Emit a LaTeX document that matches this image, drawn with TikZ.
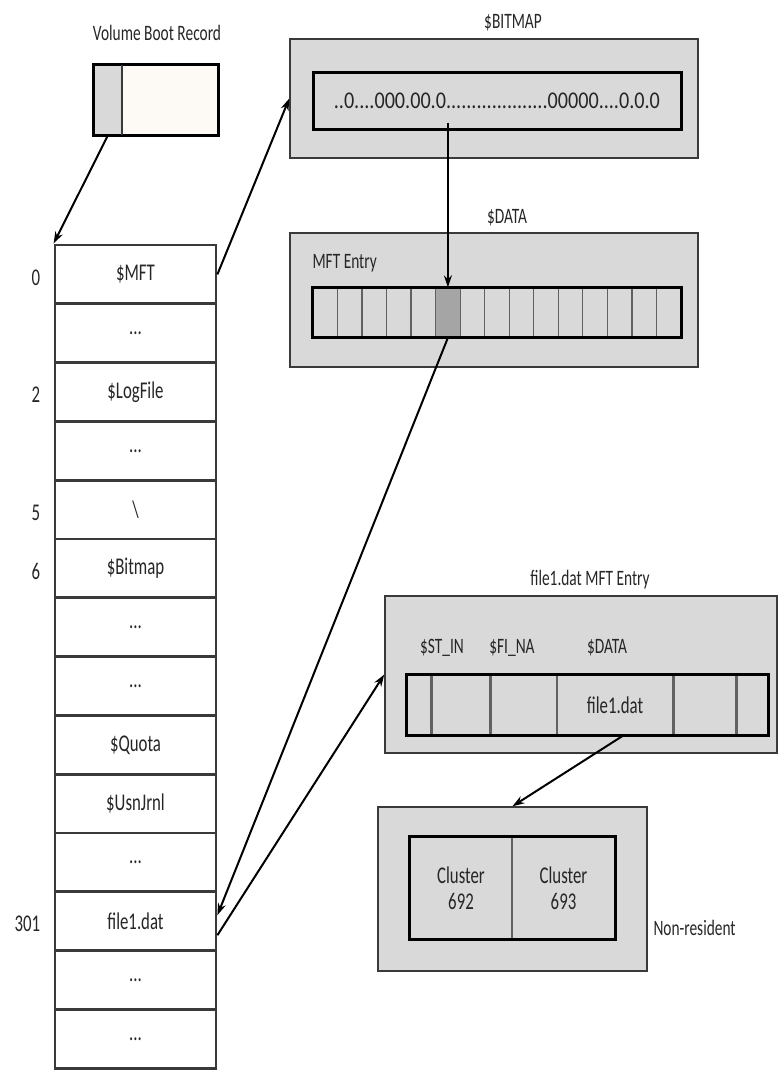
\documentclass[tikz,border=0pt]{standalone}
\usepackage{fontspec}
\setmainfont{Carlito}[FakeStretch=0.7]
\usepackage{graphicx}
\usetikzlibrary{positioning,arrows.meta,calc}
\definecolor{ntgray}{HTML}{D9D9D9}
\definecolor{ntdark}{HTML}{A5A5A5}
\definecolor{ntpaper}{HTML}{FDFAF6}
\definecolor{ntline}{HTML}{3A3A3A}
\definecolor{nttext}{HTML}{262626}
\newcommand\ntfont{\fontsize{24}{26}\selectfont}
\newcommand\ntsmall{\fontsize{22}{24}\selectfont}
\newcommand\elided{...}
\tikzset{
  row/.style   ={draw=ntline, line width=2.8pt, fill=white, minimum width=161pt,
                 minimum height=58.8pt, inner sep=0pt, font=\ntfont, text=nttext},
  idx/.style   ={font=\ntfont, text=nttext},
  panel/.style ={draw=ntline, line width=1.5pt, fill=ntgray, inner sep=0pt},
  strip/.style ={draw=black, line width=3pt, fill=ntgray, inner sep=0pt},
  rim/.style   ={draw=black, line width=3pt},
  slot/.style  ={draw=ntline!80, line width=1.3pt, fill=ntgray, inner sep=0pt,
                 minimum height=49pt, minimum width=24.53pt, font=\ntfont, text=nttext},
  ttl/.style   ={font=\ntsmall, text=nttext},
  link/.style  ={-{Stealth[length=12pt,width=8pt]}, line width=2pt},
}

\begin{document}
\begin{tikzpicture}[x=1pt,y=-1pt]
  \useasboundingbox (0,0) rectangle (777,1071);
  % --- MFT table ---
  \foreach \t [count=\i] in {\$MFT,\elided,\$LogFile,\elided,\textbackslash,\$Bitmap,\elided,\elided,
                              \$Quota,\$UsnJrnl,\elided,file1.dat,\elided,\elided}
    \node[row] (r\i) at (135.5,{245+(\i-0.5)*58.8}) {\t};
  \foreach \i/\n in {1/0,3/2,5/5,6/6,12/301}
    \node[idx, left=10pt of r\i.west, yshift=-3pt] {\n};

  % --- volume boot record ---
  \node[fill=ntgray, minimum width=28pt, minimum height=70pt, inner sep=0pt] (vbrL) at (108,100) {};
  \node[fill=ntpaper, minimum width=96pt, minimum height=70pt, inner sep=0pt] (vbrR) at (170,100) {};
  \draw[rim] (vbrL.north west) rectangle (vbrR.south east);
  \draw[ntline, line width=2pt] (vbrL.north east) -- (vbrL.south east);
  \node[ttl] (vbrT) at (157,33) {Volume Boot Record};

  % --- $BITMAP ---
  \node[panel, minimum width=408pt, minimum height=119pt] (bmp) at (494,98.5) {};
  \node[strip, minimum width=368pt, minimum height=57pt, font=\ntfont, text=nttext] (bmpIn) at (497,100.5)
    {\scalebox{1.2}[1]{..0....000.00.0....................00000....0.0.0}};
  \node[ttl] (bmpT) at (513,23) {\$BITMAP};

  % --- $DATA with MFT entries ---
  \node[panel, minimum width=408pt, minimum height=134pt] (dat) at (494,300) {};
  \node[ttl] (datT) at (507,218) {\$DATA};
  \node[ttl, anchor=west] (mftT) at (309,263) {MFT Entry};
  \foreach \i in {1,...,15}
    \node[slot] (c\i) at ({313+(\i-0.5)*24.53},312.5) {};
  \node[slot, fill=ntdark] (pick) at (c6) {};
  \draw[rim] (c1.north west) rectangle (c15.south east);

  % --- file1.dat MFT entry ---
  \node[panel, minimum width=392pt, minimum height=157pt] (fmft) at (581,674.5) {};
  \node[ttl] (fmftT) at (590,580) {file1.dat MFT Entry};
  \coordinate (f0) at (406,705);
  \foreach \w/\t [count=\i, evaluate=\i as \j using int(\i-1)] in {24/,58/,65/,115/file1.dat,62/,31/}
    \node[slot, minimum width=\w pt, minimum height=60pt, right=0pt of f\j] (f\i) {\t};
  \draw[rim] (f1.north west) rectangle (f6.south east);
  \node[ttl] (stin) at (442,648) {\$ST\_IN};
  \node[ttl] (fina) at (512,648) {\$FI\_NA};
  \node[ttl] (fdat) at (607,648) {\$DATA};

  % --- non-resident clusters ---
  \node[panel, minimum width=269pt, minimum height=164pt] (clu) at (512.5,889) {};
  \node[slot, minimum width=102pt, minimum height=102pt, align=center] (k1) at (461,888) {Cluster\\692};
  \node[slot, minimum width=103pt, minimum height=102pt, align=center] (k2) at (563.5,888) {Cluster\\693};
  \draw[rim] (k1.north west) rectangle (k2.south east);
  \node[ttl, anchor=west] (nres) at (650,928) {Non-resident};

  % --- pointers ---
  \draw[link] (vbrL.south) -- (r1.north west);
  \draw[link] (r1.east) -- (bmp.west);
  \coordinate (bmpPick) at ($(bmpIn.south -| pick.north)+(0,-8)$);
  \draw[link] (bmpPick) -- (pick.north);
  \draw[link] (pick.south) -- ([yshift=6pt]r12.east);
  \draw[link] ([yshift=-14pt]r12.east) -- (fmft.west);
  \draw[link] ([xshift=8pt]f4.south) -- (clu.north);
\end{tikzpicture}
\end{document}
